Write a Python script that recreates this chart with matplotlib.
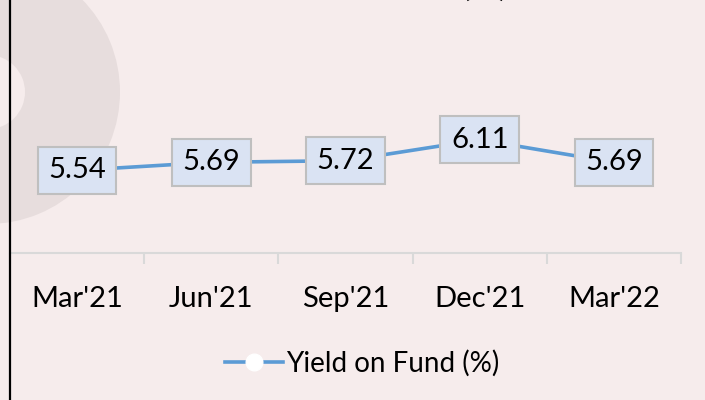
import numpy as np
import matplotlib
matplotlib.use('Agg')
from matplotlib import pyplot as plt
from matplotlib.lines import Line2D
from matplotlib.patches import Wedge

# 数据
quarters = ["Mar'21", "Jun'21", "Sep'21", "Dec'21", "Mar'22"]
yield_on_fund = [5.54, 5.69, 5.72, 6.11, 5.69]
series_name = "Yield on Fund (%)"

plt.rcParams['font.family'] = ['Lato', 'DejaVu Sans']

bg = '#f6ecec'
line_c = '#5b9bd5'

fig = plt.figure(figsize=(7.05, 4.0), dpi=100, facecolor=bg)

# 水印 (淡灰色圆环, 英寸坐标)
wm = Wedge((-0.12, 3.08), 1.32, 0, 360, width=0.95,
           transform=fig.dpi_scale_trans, facecolor='#e7dddd', edgecolor='none',
           zorder=-5)
fig.patches.append(wm)

ax = fig.add_axes([10 / 705, 147 / 400, 671 / 705, 161 / 400])
ax.set_facecolor('none')

x = np.arange(len(quarters))
ax.plot(x, yield_on_fund, color=line_c, lw=2.6, marker='o', ms=10,
        mfc='white', mec='white', zorder=3)

for xi, v in zip(x, yield_on_fund):
    ax.annotate(f'{v:.2f}', (xi, v), ha='center', va='center', fontsize=21,
                color='black', zorder=5,
                bbox=dict(boxstyle='square,pad=0.36', fc='#dae3f3',
                          ec='#bfbfbf', lw=1.5))

ax.set_xlim(-0.5, len(quarters) - 0.5)
ax.set_ylim(4.0, 7.0)
ax.set_yticks([])
for s in ['top', 'right', 'left']:
    ax.spines[s].set_visible(False)
ax.spines['bottom'].set_color('#d9d9d9')
ax.spines['bottom'].set_linewidth(1.5)

ax.set_xticks(x)
ax.set_xticklabels(quarters, fontsize=21)
ax.tick_params(axis='x', length=0, pad=24)
ax.set_xticks(np.arange(-0.5, len(quarters)), minor=True)
ax.tick_params(axis='x', which='minor', length=8, width=1.5, color='#d9d9d9',
               direction='out')

# 图例
h = Line2D([], [], color=line_c, lw=2.6, marker='o', ms=12, mfc='white',
           mec='white')
fig.legend([h], [series_name], loc='center', bbox_to_anchor=(362 / 705, 37 / 400),
           frameon=False, fontsize=20, handlelength=2.1, handletextpad=0.1)

# 标题 (顶部被截断)
fig.text(508 / 705, 1.0 + 4 / 400, 'Yield on Fund (%)', ha='right',
         va='baseline', fontsize=24, fontweight='bold')

# 左侧黑线
fig.add_artist(Line2D([10 / 705, 10 / 705], [0, 1], color='black', lw=1.6,
                      transform=fig.transFigure))

fig.savefig('out.png', dpi=100, facecolor=bg)
